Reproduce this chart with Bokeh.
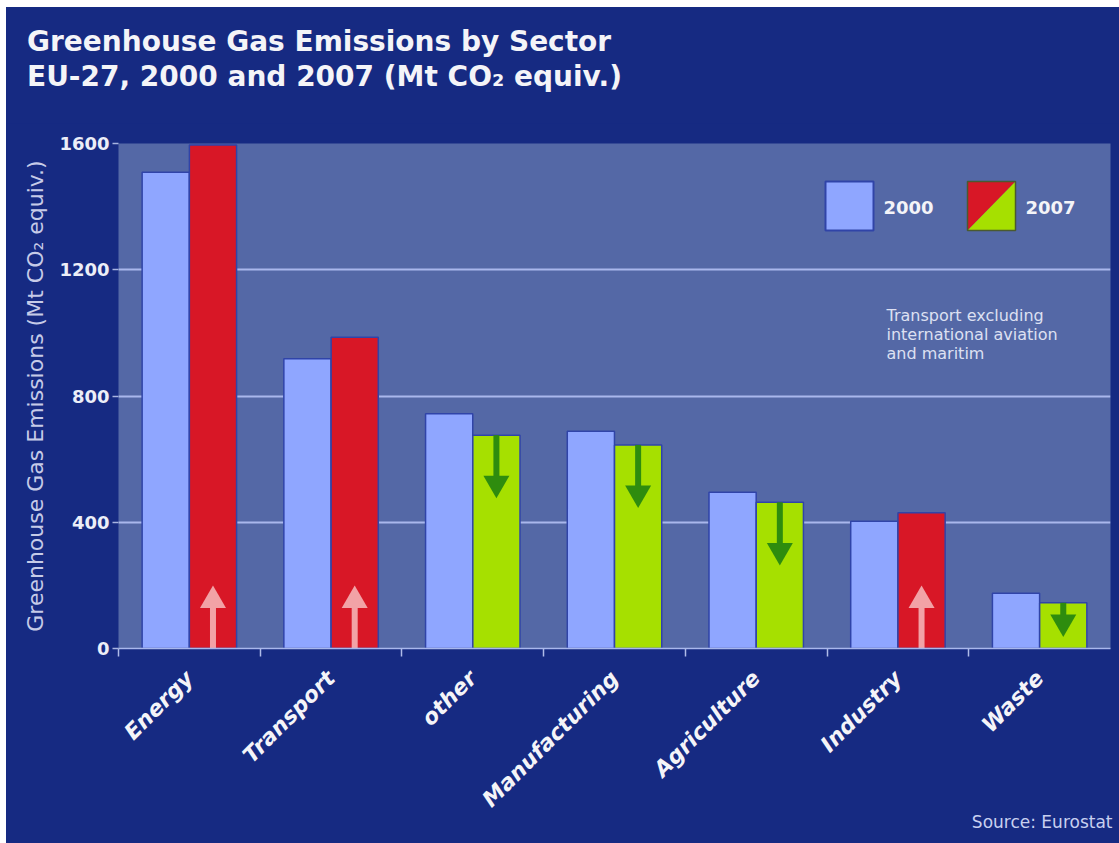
import math
from bokeh.plotting import figure
from bokeh.layouts import column
from bokeh.models import (Range1d, LinearAxis, FixedTicker, ColumnDataSource, Label, Title, Div)
from bokeh.transform import dodge
from bokeh.embed import file_html
from bokeh.resources import INLINE

# ---------------- data ----------------
categories = ["Energy", "Transport", "other", "Manufacturing", "Agriculture", "Industry", "Waste"]
emissions_2000 = [1509, 918, 744, 688, 495, 403, 175]
emissions_2007 = [1595, 986, 676, 645, 463, 430, 145]
y_ticks = [0, 400, 800, 1200, 1600]
series_names = ["2000", "2007"]
title_lines = ["Greenhouse Gas Emissions by Sector", "EU-27, 2000 and 2007 (Mt CO\u2082 equiv.)"]
y_label = "Greenhouse Gas Emissions (Mt CO\u2082 equiv.)"
note_lines = ["Transport excluding", "international aviation", "and maritim"]
source_text = "Source: Eurostat"

# ---------------- style ----------------
BG = "#162a82"
PLOT_BG = "#5468a6"
BLUE = "#8fa6ff"
RED = "#d81726"
GREEN = "#a6e000"
DARK_GREEN = "#2e8c0e"
PINK = "#f2a2a6"
EDGE = "#3044a8"
GRID = "#a9b7ec"
WHITE = "#f4f4f8"
FONT = "DejaVu Sans"

FRAME_W, FRAME_H = 992, 505
YMAX = 1600
UPP = YMAX / FRAME_H  # data units per pixel
N = len(categories)
centers = [i + 0.5 for i in range(N)]

# ---------------- title block ----------------
title_div = Div(
    text=('<div style="font-family:\'DejaVu Sans\';font-weight:bold;font-size:28px;'
          'color:%s;line-height:35px;padding:17px 0 0 21px;white-space:nowrap;margin:0;">%s</div>'
          % (WHITE, "<br>".join(title_lines))),
    width=1113, height=116, margin=0, styles={"background-color": BG})

p = figure(x_range=Range1d(0, N), y_range=Range1d(0, YMAX),
           frame_width=FRAME_W, frame_height=FRAME_H,
           min_border_left=112, min_border_right=9, min_border_top=20, min_border_bottom=195,
           x_axis_location=None, output_backend="svg", toolbar_location=None,
           background_fill_color=PLOT_BG, border_fill_color=BG, outline_line_color=None,
           margin=0)

p.extra_x_ranges = {"px": Range1d(0, FRAME_W)}
p.extra_y_ranges = {"py": Range1d(0, FRAME_H)}

# y axis
p.yaxis.ticker = FixedTicker(ticks=y_ticks)
p.yaxis.axis_label = y_label
p.yaxis.axis_label_text_font = FONT
p.yaxis.axis_label_text_font_style = "normal"
p.yaxis.axis_label_text_font_size = "22px"
p.yaxis.axis_label_text_color = "#c6cbe8"
p.yaxis.axis_label_standoff = 8
p.yaxis.major_label_text_font = FONT
p.yaxis.major_label_text_font_style = "bold"
p.yaxis.major_label_text_font_size = "18px"
p.yaxis.major_label_text_color = "#eceef8"
p.yaxis.major_label_standoff = 3
p.yaxis.axis_line_color = None
p.yaxis.major_tick_out = 6
p.yaxis.major_tick_in = 0
p.yaxis.major_tick_line_color = "#a8b4e0"
p.yaxis.major_tick_line_width = 1.5
p.yaxis.minor_tick_line_color = None

p.ygrid.grid_line_color = GRID
p.ygrid.grid_line_width = 2
p.ygrid.ticker = FixedTicker(ticks=y_ticks)
p.xgrid.visible = False

# x axis: labels at category centres, short ticks at category boundaries
cat_axis = LinearAxis(ticker=FixedTicker(ticks=centers, minor_ticks=list(range(N))),
                      major_label_overrides={c: name for c, name in zip(centers, categories)},
                      major_tick_line_color=None, major_tick_out=0, major_tick_in=0,
                      minor_tick_out=8, minor_tick_in=0, minor_tick_line_color="#b0bce8",
                      minor_tick_line_width=1.5,
                      axis_line_color=GRID, axis_line_width=1.5,
                      major_label_orientation=math.pi / 4,
                      major_label_text_font=FONT, major_label_text_font_style="bold italic",
                      major_label_text_font_size="22px", major_label_text_color=WHITE,
                      major_label_standoff=18)
p.add_layout(cat_axis, "below")

# source note
p.add_layout(Title(text=source_text, align="right", offset=-2, text_font=FONT,
                   text_font_style="normal", text_font_size="17px", text_color="#c8d0f0",
                   vertical_align="top", standoff=-24), "below")

# ---------------- bars ----------------
colors_2007 = [RED if b > a else GREEN for a, b in zip(emissions_2000, emissions_2007)]
src = ColumnDataSource(dict(xc=centers, cat=categories, v00=emissions_2000,
                            v07=emissions_2007, c07=colors_2007))
OFF, W = 0.1667, 0.333
p.vbar(x=dodge("xc", -OFF), top="v00", width=W, source=src,
       fill_color=BLUE, line_color=EDGE, line_width=1.5)
p.vbar(x=dodge("xc", OFF), top="v07", width=W, source=src,
       fill_color="c07", line_color=EDGE, line_width=1.5)

# ---------------- arrows ----------------
HEAD = 26
head_u = HEAD * math.sqrt(3) / 2 * UPP
up = dict(xc=[], y0=[], y1=[], yc=[])
down = dict(xc=[], y0=[], y1=[], yc=[])
for c, a, b in zip(centers, emissions_2000, emissions_2007):
    if b > a:
        tip = 200.0
        base = tip - head_u
        up["xc"].append(c); up["y0"].append(0); up["y1"].append(base + 3)
        up["yc"].append(base + head_u / 3)
    else:
        length = min(200.0, 0.75 * b)
        tip = b - length
        base = tip + head_u
        down["xc"].append(c); down["y0"].append(b); down["y1"].append(base - 3)
        down["yc"].append(base - head_u / 3)
up_src = ColumnDataSource(up)
down_src = ColumnDataSource(down)
ax = dodge("xc", OFF)
p.segment(x0=ax, y0="y0", x1=ax, y1="y1", source=up_src, line_color=PINK, line_width=6)
p.scatter(x=ax, y="yc", source=up_src, marker="triangle", size=HEAD,
          fill_color=PINK, line_color=None)
p.segment(x0=ax, y0="y0", x1=ax, y1="y1", source=down_src, line_color=DARK_GREEN, line_width=6)
p.scatter(x=ax, y="yc", source=down_src, marker="inverted_triangle", size=HEAD,
          fill_color=DARK_GREEN, line_color=None)

# ---------------- legend (frame pixel coords) ----------------
px = dict(x_range_name="px", y_range_name="py")
p.quad(left=[707], right=[755], bottom=[418], top=[467], fill_color=BLUE,
       line_color=EDGE, line_width=2, **px)
p.patch(x=[849, 849, 897], y=[418, 467, 467], fill_color=RED, line_color=None, **px)
p.patch(x=[849, 897, 897], y=[418, 418, 467], fill_color=GREEN, line_color=None, **px)
p.quad(left=[849], right=[897], bottom=[418], top=[467], fill_color=None,
       line_color="#4a5a30", line_width=1.5, **px)
for xx, t in zip([765, 907], series_names):
    p.add_layout(Label(x=xx, y=435, text=t, text_font=FONT, text_font_style="bold",
                       text_font_size="18px", text_color=WHITE, **px))

# note
for i, t in enumerate(note_lines):
    p.add_layout(Label(x=768, y=324 - 19 * i, text=t, text_font=FONT, text_font_size="16px",
                       text_color="#dde0f2", **px))

layout = column(title_div, p, spacing=0, margin=(7, 0, 0, 6),
                styles={"background-color": BG})
open("out.html", "w").write(file_html(layout, INLINE))
